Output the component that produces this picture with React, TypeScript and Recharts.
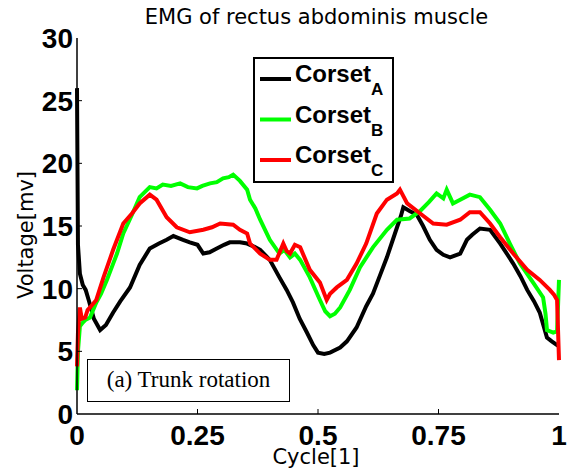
import { LineChart, Line, XAxis, YAxis, Legend } from "recharts";

// Corset A (black)
const aX = [0, 0.002, 0.006, 0.012, 0.018, 0.025, 0.035, 0.048, 0.06, 0.075, 0.09, 0.11, 0.13, 0.151, 0.17, 0.186, 0.2, 0.207, 0.22, 0.234, 0.25, 0.262, 0.275, 0.29, 0.305, 0.317, 0.338, 0.353, 0.365, 0.38, 0.4, 0.42, 0.435, 0.448, 0.462, 0.477, 0.49, 0.5, 0.513, 0.525, 0.546, 0.56, 0.58, 0.6, 0.614, 0.63, 0.643, 0.664, 0.672, 0.677, 0.69, 0.705, 0.718, 0.732, 0.746, 0.76, 0.774, 0.795, 0.809, 0.82, 0.836, 0.857, 0.878, 0.89, 0.905, 0.92, 0.934, 0.948, 0.96, 0.975, 0.985, 0.996, 1];
const aY = [26, 13.5, 11.2, 10.3, 9.9, 9.0, 7.6, 6.7, 7.1, 8.1, 9.0, 10.1, 11.9, 13.2, 13.6, 13.9, 14.2, 14.1, 13.9, 13.7, 13.5, 12.8, 12.9, 13.2, 13.5, 13.7, 13.7, 13.6, 13.4, 13.1, 12.3, 10.9, 9.9, 8.9, 7.6, 6.5, 5.5, 4.9, 4.8, 4.9, 5.3, 5.8, 6.9, 8.6, 9.6, 11.2, 12.5, 14.9, 15.8, 16.5, 16.2, 15.9, 15.0, 13.9, 13.1, 12.7, 12.5, 12.8, 13.9, 14.3, 14.8, 14.7, 13.6, 12.9, 12.0, 11.0, 9.9, 9.0, 8.1, 6.1, 5.8, 5.5, 5.4];

// Corset B (green)
const bX = [0, 0.002, 0.006, 0.012, 0.017, 0.027, 0.04, 0.05, 0.062, 0.075, 0.083, 0.096, 0.114, 0.13, 0.151, 0.165, 0.178, 0.195, 0.214, 0.23, 0.249, 0.26, 0.276, 0.29, 0.303, 0.315, 0.324, 0.338, 0.353, 0.359, 0.37, 0.38, 0.4, 0.42, 0.43, 0.442, 0.452, 0.463, 0.483, 0.504, 0.515, 0.525, 0.535, 0.546, 0.566, 0.587, 0.614, 0.643, 0.664, 0.69, 0.712, 0.73, 0.746, 0.76, 0.767, 0.78, 0.795, 0.815, 0.836, 0.857, 0.878, 0.898, 0.919, 0.946, 0.967, 0.972, 0.975, 0.988, 0.996, 1];
const bY = [1.9, 5.0, 7.0, 7.3, 7.5, 7.7, 8.9, 9.6, 10.7, 12.0, 12.8, 14.4, 15.9, 17.3, 18.1, 18.0, 18.3, 18.2, 18.4, 18.1, 18.0, 18.2, 18.4, 18.5, 18.8, 18.9, 19.1, 18.6, 17.9, 17.1, 16.4, 15.5, 13.9, 12.8, 13.1, 12.5, 12.8, 12.3, 10.9, 9.1, 8.2, 7.8, 8.0, 8.5, 9.9, 11.7, 13.3, 14.7, 15.5, 15.6, 16.2, 16.9, 17.6, 17.2, 17.9, 16.8, 17.1, 17.5, 17.3, 16.3, 15.2, 13.6, 12.0, 10.5, 9.3, 8.0, 6.7, 6.5, 6.6, 10.7];

// Corset C (red)
const cX = [0, 0.002, 0.006, 0.01, 0.017, 0.022, 0.027, 0.04, 0.055, 0.075, 0.096, 0.114, 0.13, 0.151, 0.165, 0.186, 0.207, 0.234, 0.262, 0.28, 0.297, 0.324, 0.338, 0.353, 0.359, 0.38, 0.4, 0.414, 0.428, 0.435, 0.442, 0.452, 0.463, 0.483, 0.504, 0.518, 0.525, 0.539, 0.56, 0.58, 0.6, 0.622, 0.643, 0.664, 0.67, 0.685, 0.712, 0.739, 0.767, 0.795, 0.815, 0.836, 0.857, 0.878, 0.905, 0.934, 0.96, 0.981, 0.99, 0.996, 1];
const cY = [3.8, 6.5, 8.5, 7.6, 7.7, 8.3, 8.5, 9.1, 10.9, 13.1, 15.2, 16.0, 16.8, 17.5, 17.1, 15.7, 14.9, 14.5, 14.7, 14.9, 15.2, 15.1, 14.7, 14.4, 13.6, 12.8, 12.3, 12.3, 13.6, 13.0, 12.8, 13.5, 13.3, 11.5, 10.5, 9.1, 9.6, 10.1, 10.7, 12.0, 13.6, 16.0, 17.1, 17.6, 17.9, 16.8, 16.0, 15.2, 15.1, 15.5, 16.1, 16.1, 15.2, 14.1, 12.8, 11.5, 10.7, 9.9, 9.5, 9.1, 4.3];

const xTicks = [0, 0.25, 0.5, 0.75, 1];
const yTicks = [0, 5, 10, 15, 20, 25, 30];

const series = [
  { name: "A", color: "#000000", xs: aX, ys: aY },
  { name: "B", color: "#00ff00", xs: bX, ys: bY },
  { name: "C", color: "#ff0000", xs: cX, ys: cY },
];

const toRows = (xs: number[], ys: number[]) => xs.map((x, i) => ({ x, y: ys[i] }));

const TICK_FONT = "'Liberation Sans', Arial, sans-serif";
const LABEL_FONT = "'DejaVu Sans', sans-serif";

function BottomTick({ x, y, payload }: any) {
  const v = payload.value;
  return (
    <g>
      {v > 0 && v < 1 && <line x1={x} y1={y} x2={x} y2={y - 5} stroke="#000" />}
      <text x={x} y={y + 31} textAnchor="middle" fontFamily={TICK_FONT} fontWeight="bold" fontSize={28} fill="#000">
        {String(v)}
      </text>
    </g>
  );
}

function TopTick({ x, y, payload }: any) {
  const v = payload.value;
  if (v <= 0 || v >= 1) return <g />;
  return <line x1={x} y1={y} x2={x} y2={y + 5} stroke="#000" />;
}

function LeftTick({ x, y, payload }: any) {
  const v = payload.value;
  return (
    <g>
      {v > 0 && v < 30 && <line x1={x} y1={y} x2={x + 5} y2={y} stroke="#000" />}
      <text x={x - 4} y={y} dy="0.36em" textAnchor="end" fontFamily={TICK_FONT} fontWeight="bold" fontSize={28} fill="#000">
        {String(v)}
      </text>
    </g>
  );
}

function RightTick({ x, y, payload }: any) {
  const v = payload.value;
  if (v <= 0 || v >= 30) return <g />;
  return <line x1={x} y1={y} x2={x - 5} y2={y} stroke="#000" />;
}

function LegendBox({ payload }: any) {
  const items = (payload ?? []) as any[];
  return (
    <svg width={141} height={126} style={{ display: "block" }}>
      <rect x={1} y={1} width={139} height={124} fill="#fff" stroke="#000" strokeWidth={2} />
      {items.map((it, i) => {
        const cy = 22 + i * 40.5;
        return (
          <g key={i}>
            <line x1={7} y1={cy} x2={38} y2={cy} stroke={it.color} strokeWidth={4} />
            <text x={42} y={cy + 3} fontFamily={TICK_FONT} fontWeight="bold" fontSize={24} fill="#000">
              Corset
              <tspan dy={13} fontSize={17}>
                {it.value}
              </tspan>
            </text>
          </g>
        );
      })}
    </svg>
  );
}

export default function App() {
  return (
    <div style={{ position: "absolute", left: 0, top: 0, width: 569, height: 468, background: "#fff" }}>
      <LineChart width={569} height={468} margin={{ top: 38, right: 10, bottom: 14, left: 17 }}>
        <XAxis
          type="number"
          dataKey="x"
          domain={[0, 1]}
          ticks={xTicks}
          height={40}
          tickSize={0}
          tickMargin={0}
          tickLine={false}
          axisLine={{ stroke: "#000", strokeWidth: 1.5 }}
          tick={<BottomTick />}
          interval={0}
          allowDuplicatedCategory={false}
        />
        <XAxis
          xAxisId="top"
          orientation="top"
          type="number"
          dataKey="x"
          domain={[0, 1]}
          ticks={xTicks}
          height={0}
          tickSize={0}
          tickMargin={0}
          tickLine={false}
          axisLine={{ stroke: "#000", strokeWidth: 1.5 }}
          tick={<TopTick />}
          interval={0}
        />
        <YAxis
          type="number"
          domain={[0, 30]}
          ticks={yTicks}
          width={60}
          tickSize={0}
          tickMargin={0}
          tickLine={false}
          axisLine={{ stroke: "#000", strokeWidth: 1.5 }}
          tick={<LeftTick />}
          interval={0}
        />
        <YAxis
          yAxisId="right"
          orientation="right"
          type="number"
          domain={[0, 30]}
          ticks={yTicks}
          width={0}
          tickSize={0}
          tickMargin={0}
          tickLine={false}
          axisLine={{ stroke: "#000", strokeWidth: 1.5 }}
          tick={<RightTick />}
          interval={0}
        />
        {series.map((s) => (
          <Line
            key={s.name}
            data={toRows(s.xs, s.ys)}
            dataKey="y"
            name={s.name}
            type="linear"
            stroke={s.color}
            strokeWidth={4}
            dot={false}
            activeDot={false}
            isAnimationActive={false}
          />
        ))}
        <Legend
          layout="vertical"
          verticalAlign="middle"
          align="center"
          content={<LegendBox />}
          wrapperStyle={{ position: "absolute", left: 253, top: 57, width: 141, height: 126 }}
        />
      </LineChart>
      <div
        style={{
          position: "absolute",
          left: 0,
          width: 633,
          top: 4,
          textAlign: "center",
          fontFamily: LABEL_FONT,
          fontSize: 21,
          lineHeight: "26px",
        }}
      >
        EMG of rectus abdominis muscle
      </div>
      <div
        style={{
          position: "absolute",
          left: 0,
          width: 632,
          top: 444,
          textAlign: "center",
          fontFamily: LABEL_FONT,
          fontSize: 21,
          lineHeight: "26px",
        }}
      >
        Cycle[1]
      </div>
      <div
        style={{
          position: "absolute",
          left: 26 - 100,
          top: 235 - 13,
          width: 200,
          textAlign: "center",
          fontFamily: LABEL_FONT,
          fontSize: 21,
          lineHeight: "26px",
          transform: "rotate(-90deg)",
        }}
      >
        Voltage[mv]
      </div>
      <div
        style={{
          position: "absolute",
          left: 87,
          top: 359,
          width: 203,
          height: 43,
          boxSizing: "border-box",
          border: "1.5px solid #000",
          background: "#fff",
          fontFamily: "'Liberation Serif', 'Times New Roman', serif",
          fontSize: 23,
          lineHeight: "40px",
          textAlign: "center",
        }}
      >
        (a) Trunk rotation
      </div>
    </div>
  );
}
